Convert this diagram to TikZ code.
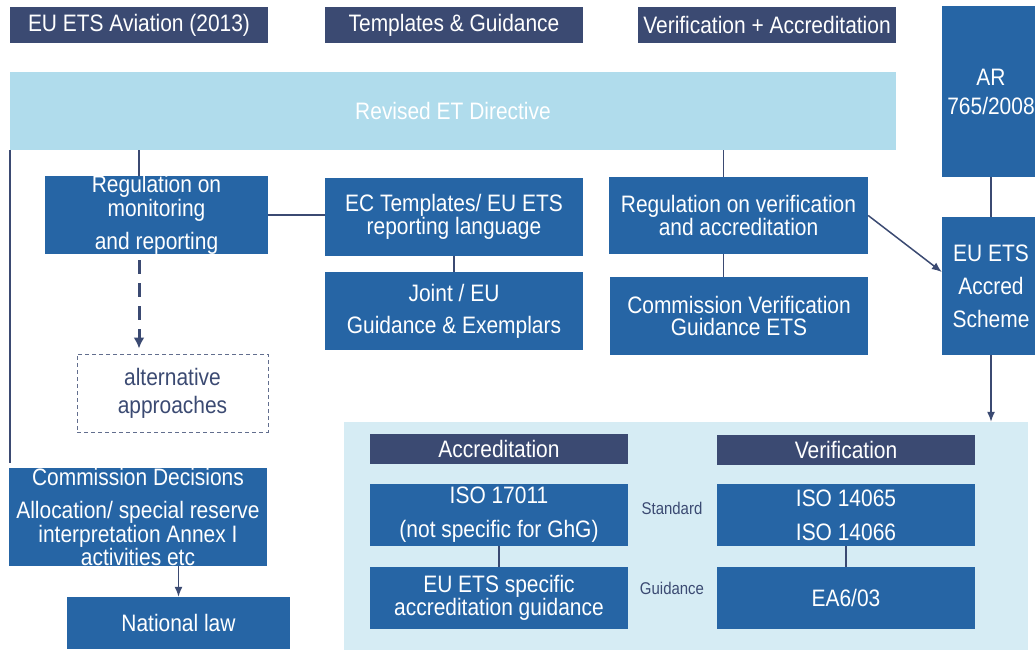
\documentclass[tikz,border=0pt]{standalone}
\usepackage{fontspec}
\setmainfont[FakeStretch=0.88]{Liberation Sans}
\usetikzlibrary{positioning}
\usetikzlibrary{arrows.meta,shapes}
\usetikzlibrary{calc}
\definecolor{navy}{RGB}{59,74,114}
\definecolor{boxblue}{RGB}{38,101,165}
\definecolor{bandblue}{RGB}{176,220,236}
\definecolor{panelblue}{RGB}{214,236,244}
\newcommand{\boxfont}{\fontsize{23.8}{22}\selectfont}
\tikzstyle{headbox}=[rectangle,fill=navy,text=white,inner sep=0pt,minimum width=258pt,minimum height=36pt,font=\boxfont]
\tikzstyle{bluebox}=[rectangle,fill=boxblue,text=white,inner sep=0pt,align=center,font=\boxfont]
\tikzstyle{altbox}=[rectangle,draw=navy!80,dash pattern=on 4pt off 3pt,line width=1pt,text=navy,inner sep=0pt,align=center,font=\boxfont,minimum width=191pt,minimum height=78pt]
\tikzstyle{link} = [draw,navy,line width=1.8pt]
\tikzstyle{edge} = [draw,navy,line width=1.5pt,->,>={Latex[length=10pt,width=8pt]}]
\tikzstyle{dashededge} = [draw,navy,line width=3pt,dash pattern=on 14pt off 9pt,->,>={Latex[length=11pt,width=11pt]}]
\tikzstyle{sidelabel} = [font=\fontsize{17}{18}\selectfont,text=navy]

\begin{document}
\begin{tikzpicture}[x=1pt,y=-1pt]
\useasboundingbox (0,0) rectangle (1035,649);

% column headers
  \foreach \pos/\name/\label in {{(139,25)/hAvi/EU ETS Aviation (2013)}, {(454,25)/hTpl/Templates \& Guidance}, {(767,25)/hVer/Verification + Accreditation}}
        \node[headbox] (\name) at \pos {\label};

% directive band
    \node[rectangle,fill=bandblue,text=white,minimum width=886pt,minimum height=78pt,inner sep=0pt,font=\boxfont] (dir) at (453,111) {Revised ET Directive};

    \node[bluebox,minimum width=98pt,minimum height=171pt] (ar) at (991,91.5) {AR\\[7pt]765/2008};

% monitoring column
    \node[bluebox,minimum width=223pt,minimum height=78pt] (regMon) at (156.5,215) {Regulation on\\monitoring\\[10pt]and reporting};
    \node[altbox] (alt) at (172.5,393) {alternative\\[6pt]approaches};
    \node[bluebox,minimum width=258pt,minimum height=98pt] (comDec) at (138,517) {Commission Decisions\\[11pt]Allocation/ special reserve\\interpretation Annex I\\activities etc};
    \node[bluebox,minimum width=223pt,minimum height=52pt] (natLaw) at (178.5,623) {National law};

% templates column
    \node[bluebox,minimum width=258pt,minimum height=78pt] (ecTpl) at (454,217) {EC Templates/ EU ETS\\reporting language};
    \node[bluebox,minimum width=258pt,minimum height=78pt] (joint) at (454,311) {Joint / EU\\[10pt]Guidance \& Exemplars};

% verification column
    \node[bluebox,minimum width=259pt,minimum height=77pt] (regVer) at (738.5,215.5) {Regulation on verification\\and accreditation};
    \node[bluebox,minimum width=258pt,minimum height=78pt] (comVer) at (739,316) {Commission Verification\\Guidance ETS};
    \node[bluebox,minimum width=98pt,minimum height=138pt] (accr) at (991,286) {EU ETS\\[11pt]Accred\\[11pt]Scheme};

% standards panel
    \node[rectangle,fill=panelblue,minimum width=684pt,minimum height=230pt,inner sep=0pt] (panel) at (686,537) {};
  \foreach \pos/\name/\label in {{(499,449)/hAcc/Accreditation}, {(846,449.5)/hVerif/Verification}}
        \node[headbox,minimum height=30pt] (\name) at \pos {\label};
    \node[bluebox,minimum width=258pt,minimum height=62pt] (iso17) at (499,515) {ISO 17011\\[12pt](not specific for GhG)};
    \node[bluebox,minimum width=258pt,minimum height=62pt] (iso14) at (846,515) {ISO 14065\\[12pt]ISO 14066};
    \node[bluebox,minimum width=258pt,minimum height=62pt] (euSpec) at (499,598) {EU ETS specific\\accreditation guidance};
    \node[bluebox,minimum width=258pt,minimum height=62pt] (ea6) at (846,598) {EA6/03};
    \node[sidelabel] (stdLbl) at (672,508) {Standard};
    \node[sidelabel] (guiLbl) at (672,588) {Guidance};

    % connectors
    \coordinate (vTop) at ([xshift=-15pt]regVer.north);
    \path[link] (dir.south -| hAvi.south) -- (regMon.north -| hAvi.south);
    \path[link, shorten >=5pt] (dir.south west) -- (dir.south west |- comDec.north);
    \path[link] (regMon.east) -- (regMon.east -| ecTpl.west);
    \path[link] (ecTpl.south) -- (joint.north);
    \path[dashededge, shorten <=6pt, shorten >=5pt] (regMon.south -| hAvi.south) -- (alt.north -| hAvi.south);
    \path[link] (vTop |- dir.south) -- (vTop);
    \path[link] (vTop |- regVer.south) -- (vTop |- comVer.north);
    \path[link] (ar.south) -- (accr.north);
    \path[edge] (regVer.east) -- ([yshift=14pt]accr.west);
    \path[edge] (accr.south) -- (accr.south |- panel.north);
    \path[edge] (natLaw.north |- comDec.south) -- (natLaw.north);
    \path[link] (iso17.south) -- (euSpec.north);
    \path[link] (iso14.south) -- (ea6.north);

   \end{tikzpicture}
\end{document}
